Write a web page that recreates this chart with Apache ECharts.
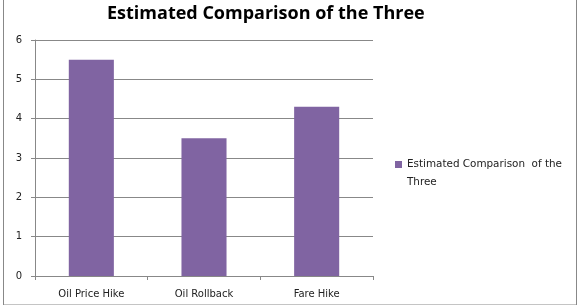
<!DOCTYPE html>
<html><head><meta charset="utf-8">
<script src="https://cdn.jsdelivr.net/npm/echarts@6/dist/echarts.min.js"></script>
<style>html,body{margin:0;padding:0;background:#fff}#c{width:580px;height:305px}</style>
</head><body><div id="c"></div>
<script>
const categories = ['Oil Price Hike', 'Oil Rollback', 'Fare Hike'];
const values = [5.5, 3.5, 4.3];
const seriesName = 'Estimated Comparison  of the Three';
const yTicks = { min: 0, max: 6, interval: 1 };

const chart = echarts.init(document.getElementById('c'));
chart.setOption({
  animation: false,
  backgroundColor: '#fff',
  title: {
    text: 'Estimated Comparison of the Three',
    left: 102, top: 0,
    textStyle: { fontFamily: 'Open Sans', fontWeight: 'bold', fontSize: 18, color: '#000' }
  },
  graphic: [{
    type: 'rect', shape: { x: 3.5, y: -1, width: 573, height: 306 },
    style: { fill: 'none', stroke: '#888', lineWidth: 1 }, silent: true
  }],
  legend: {
    left: 395, top: 159, orient: 'vertical', padding: 0,
    icon: 'rect', itemWidth: 7, itemHeight: 7, itemGap: 4,
    formatter: function (name) {
      const i = name.lastIndexOf(' ');
      return '{a|' + name.slice(0, i) + '}\n{b|' + name.slice(i + 1) + '}';
    },
    textStyle: {
      fontFamily: 'DejaVu Sans', fontSize: 10.4, color: '#222',
      rich: {
        a: { fontFamily: 'DejaVu Sans', fontSize: 10.4, color: '#222', lineHeight: 35 },
        b: { fontFamily: 'DejaVu Sans', fontSize: 10.4, color: '#222', lineHeight: 1 }
      }
    },
    data: [seriesName]
  },
  grid: { left: 35, right: 207, top: 40, bottom: 29 },
  xAxis: {
    type: 'category', data: categories,
    axisLine: { lineStyle: { color: '#888' } },
    axisTick: { show: true, alignWithLabel: false, length: 4, lineStyle: { color: '#888' } },
    axisLabel: { fontFamily: 'DejaVu Sans', fontSize: 10, color: '#222', margin: 13 }
  },
  yAxis: {
    type: 'value', min: yTicks.min, max: yTicks.max, interval: yTicks.interval,
    axisLine: { show: true, lineStyle: { color: '#888' } },
    axisTick: { show: true, length: 4, lineStyle: { color: '#888' } },
    splitLine: { lineStyle: { color: '#888' } },
    axisLabel: { fontFamily: 'DejaVu Sans', fontSize: 10, color: '#222', margin: 13 }
  },
  series: [{
    name: seriesName, type: 'bar', data: values, barWidth: '40%',
    itemStyle: { color: '#8064A2' }
  }]
});
</script></body></html>
